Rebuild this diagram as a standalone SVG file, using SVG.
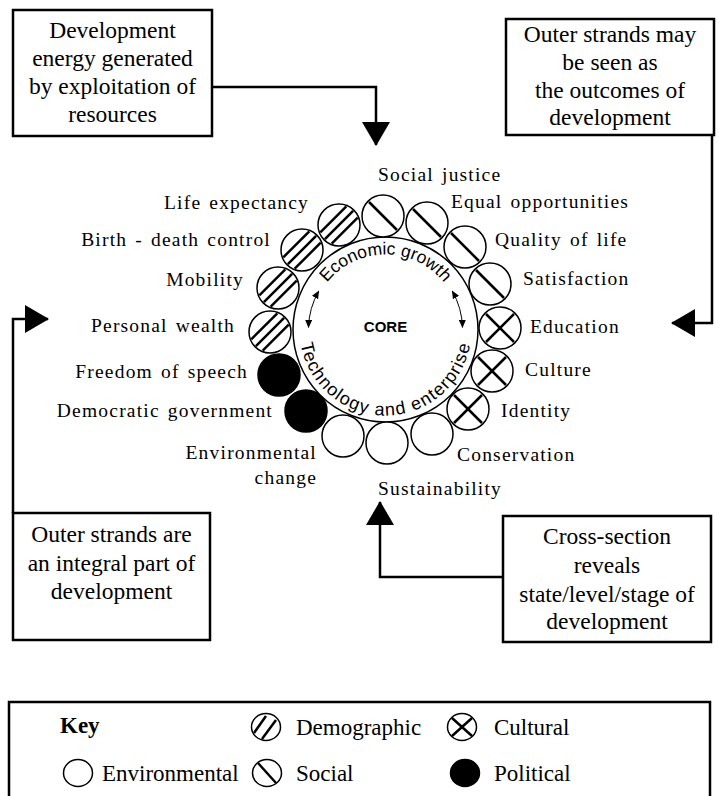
<svg xmlns="http://www.w3.org/2000/svg" width="719" height="796" viewBox="0 0 719 796">
<style>
.box{fill:#fff;stroke:#000;stroke-width:2.5}
.bt{font-family:"Liberation Serif","Times New Roman",serif;font-size:23.5px;fill:#000;text-anchor:middle}
.lbl{font-family:"Liberation Serif","Times New Roman",serif;font-size:19.5px;letter-spacing:1.2px;word-spacing:2px;fill:#000}
.end{text-anchor:end}
.conn{fill:none;stroke:#000;stroke-width:2.5}
.c{fill:#fff;stroke:#000;stroke-width:1.5}
.cf{fill:#000;stroke:#000;stroke-width:1.5}
.h{stroke:#000;stroke-width:2.5;stroke-linecap:butt}
.sans{font-family:"Liberation Sans",Arial,sans-serif;fill:#000}
.thin{fill:none;stroke:#000;stroke-width:1}
.kt{font-family:"Liberation Serif","Times New Roman",serif;font-size:23px;fill:#000}
</style>
<defs>
<marker id="big" viewBox="0 0 24 28" markerWidth="24" markerHeight="28" refX="23" refY="14" markerUnits="userSpaceOnUse" orient="auto"><path d="M0,0 L24,14 L0,28 Z" fill="#000"/></marker>
<marker id="small" viewBox="0 0 8 7" markerWidth="8" markerHeight="7" refX="7.5" refY="3.5" markerUnits="userSpaceOnUse" orient="auto-start-reverse"><path d="M0,0 L8,3.5 L0,7 Z" fill="#000"/></marker>
<g id="soc"><circle r="21" class="c"/><line x1="-14" y1="-14" x2="14" y2="14" class="h"/></g>
<g id="cul"><circle r="21" class="c"/><line x1="-14" y1="-14" x2="14" y2="14" class="h"/><line x1="-14" y1="14" x2="14" y2="-14" class="h"/></g>
<g id="dem"><circle r="21" class="c"/><line x1="-14.1" y1="14.1" x2="14.1" y2="-14.1" class="h"/><line x1="-7.3" y1="18.7" x2="18.7" y2="-7.3" class="h"/><line x1="-18.7" y1="7.3" x2="7.3" y2="-18.7" class="h"/></g>
<g id="env"><circle r="21" class="c"/></g>
<g id="pol"><circle r="21" class="cf"/></g>
<path id="arcTop" d="M310.5,329.5 A75,75 0 0 1 460.5,329.5"/>
<path id="arcBot" d="M299.5,329.5 A86,86 0 0 0 471.5,329.5"/>
</defs>

<g id="connectors">
<path class="conn" d="M212,87 H376 V145" marker-end="url(#big)"/>
<path class="conn" d="M712,135 V323 H672" marker-end="url(#big)"/>
<path class="conn" d="M13,513 V319 H48" marker-end="url(#big)"/>
<path class="conn" d="M503,577 H380 V502" marker-end="url(#big)"/>
</g>

<g id="box-energy">
<rect class="box" x="13" y="10" width="199" height="126"/>
<text class="bt" x="112.5" y="38">Development</text>
<text class="bt" x="112.5" y="66">energy generated</text>
<text class="bt" x="112.5" y="94">by exploitation of</text>
<text class="bt" x="112.5" y="122">resources</text>
</g>

<g id="box-outcomes">
<rect class="box" x="506" y="19" width="208" height="116"/>
<text class="bt" x="610" y="42">Outer strands may</text>
<text class="bt" x="610" y="70">be seen as</text>
<text class="bt" x="610" y="98">the outcomes of</text>
<text class="bt" x="610" y="125">development</text>
</g>

<g id="box-integral">
<rect class="box" x="13" y="513" width="197" height="127"/>
<text class="bt" x="111.5" y="542">Outer strands are</text>
<text class="bt" x="111.5" y="571">an integral part of</text>
<text class="bt" x="111.5" y="599">development</text>
</g>

<g id="box-cross">
<rect class="box" x="503" y="516" width="208" height="126"/>
<text class="bt" x="607" y="544">Cross-section</text>
<text class="bt" x="607" y="573">reveals</text>
<text class="bt" x="607" y="602">state/level/stage of</text>
<text class="bt" x="607" y="629">development</text>
</g>

<g id="core">
<circle cx="385.5" cy="329.5" r="92.5" class="c"/>
<text class="sans" x="385.5" y="332" font-size="15" font-weight="bold" text-anchor="middle">CORE</text>
<text class="sans" font-size="17.5"><textPath href="#arcTop" startOffset="50%" text-anchor="middle">Economic growth</textPath></text>
<text class="sans" font-size="18" letter-spacing="1.2"><textPath href="#arcBot" startOffset="50%" text-anchor="middle">Technology and enterprise</textPath></text>
<path class="thin" d="M318.8,291 A77,77 0 0 0 308.5,327.5" marker-start="url(#small)" marker-end="url(#small)"/>
<path class="thin" d="M452.2,291 A77,77 0 0 1 462.5,327.5" marker-start="url(#small)" marker-end="url(#small)"/>
</g>

<g id="strand-social-justice"><use href="#soc" x="383" y="216"/><text class="lbl" x="378" y="181">Social justice</text></g>
<g id="strand-equal-opportunities"><use href="#soc" x="427" y="223"/><text class="lbl" x="451" y="208">Equal opportunities</text></g>
<g id="strand-quality-of-life"><use href="#soc" x="465" y="247"/><text class="lbl" x="495" y="246">Quality of life</text></g>
<g id="strand-satisfaction"><use href="#soc" x="490" y="284"/><text class="lbl" x="523" y="285">Satisfaction</text></g>
<g id="strand-education"><use href="#cul" x="500" y="328"/><text class="lbl" x="530" y="333">Education</text></g>
<g id="strand-culture"><use href="#cul" x="492" y="371"/><text class="lbl" x="525" y="376">Culture</text></g>
<g id="strand-identity"><use href="#cul" x="468" y="409"/><text class="lbl" x="501" y="417">Identity</text></g>
<g id="strand-conservation"><use href="#env" x="432" y="434"/><text class="lbl" x="457" y="461">Conservation</text></g>
<g id="strand-sustainability"><use href="#env" x="387" y="443"/><text class="lbl" x="378" y="495">Sustainability</text></g>
<g id="strand-environmental-change"><use href="#env" x="343" y="436"/><text class="lbl end" x="317" y="459">Environmental</text><text class="lbl end" x="317" y="484">change</text></g>
<g id="strand-democratic-government"><use href="#pol" x="306" y="411"/><text class="lbl end" x="273" y="417">Democratic government</text></g>
<g id="strand-freedom-of-speech"><use href="#pol" x="279" y="375"/><text class="lbl end" x="248" y="378">Freedom of speech</text></g>
<g id="strand-personal-wealth"><use href="#dem" x="270" y="332"/><text class="lbl end" x="235" y="332">Personal wealth</text></g>
<g id="strand-mobility"><use href="#dem" x="278" y="288"/><text class="lbl end" x="244" y="286">Mobility</text></g>
<g id="strand-birth-death-control"><use href="#dem" x="302" y="250"/><text class="lbl end" x="271" y="246">Birth - death control</text></g>
<g id="strand-life-expectancy"><use href="#dem" x="339" y="225"/><text class="lbl end" x="309" y="209">Life expectancy</text></g>

<g id="key">
<rect class="box" x="9" y="702" width="701" height="110"/>
<text class="kt" x="60" y="733" font-weight="bold">Key</text>
<ellipse cx="266" cy="727" rx="14.5" ry="13.5" class="c"/>
<line x1="254" y1="733" x2="266" y2="716" class="h"/>
<line x1="262" y1="739" x2="276" y2="720" class="h"/>
<text class="kt" x="296" y="735">Demographic</text>
<ellipse cx="462" cy="727" rx="14.5" ry="13.5" class="c"/>
<line x1="452" y1="718" x2="472" y2="736" class="h"/>
<line x1="452" y1="736" x2="472" y2="718" class="h"/>
<text class="kt" x="494" y="735">Cultural</text>
<ellipse cx="78" cy="773" rx="14.5" ry="13.5" class="c"/>
<text class="kt" x="102" y="781">Environmental</text>
<ellipse cx="267" cy="773" rx="14.5" ry="13.5" class="c"/>
<line x1="258" y1="763" x2="276" y2="783" class="h"/>
<text class="kt" x="296" y="781">Social</text>
<ellipse cx="465" cy="773" rx="14.5" ry="13.5" class="cf"/>
<text class="kt" x="494" y="781">Political</text>
</g>
</svg>
